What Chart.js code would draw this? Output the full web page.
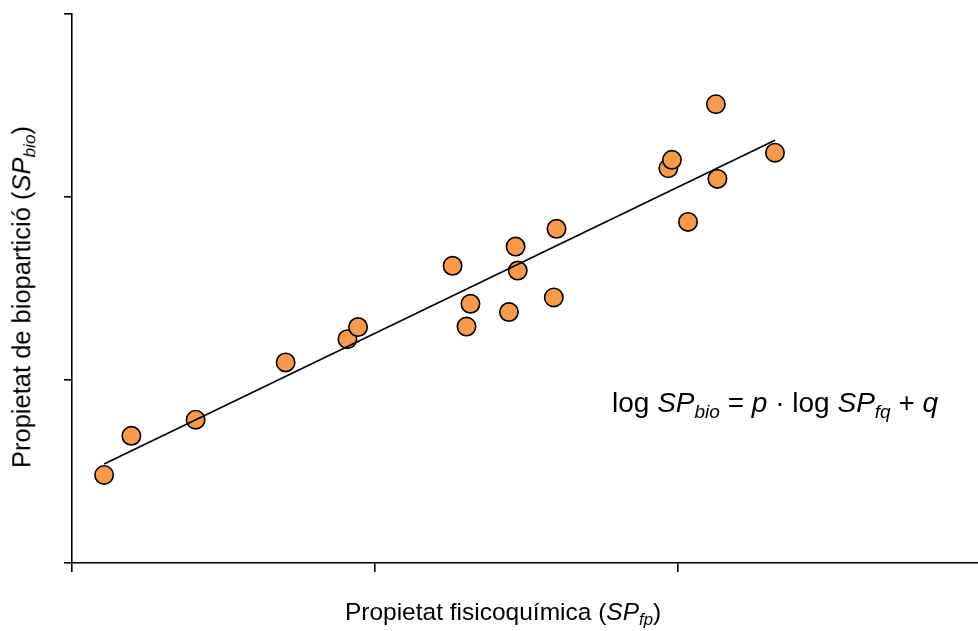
<!DOCTYPE html>
<html lang="ca">
<head>
<meta charset="utf-8">
<title>Propietat de biopartició vs propietat fisicoquímica</title>
<script src="https://cdn.jsdelivr.net/npm/chart.js@4.4.1/dist/chart.umd.min.js"></script>
<style>
  html, body { margin: 0; padding: 0; background: #fff; }
  #wrap { position: relative; width: 978px; height: 631px; font-family: Arial, "Liberation Sans", sans-serif; color: #000; }
  #wrap canvas { position: absolute; left: 0; top: 0; }
  .txt { position: absolute; white-space: nowrap; line-height: 1; }
  .txt i { font-style: italic; }
  .txt sub { font-size: 0.68em; font-style: italic; vertical-align: -0.3em; line-height: 0; }
  #tituloY { left: 22px; top: 297px; font-size: 25.5px; transform: translate(-50%, -50%) rotate(-90deg); }
  #tituloX { left: 503px; top: 612px; font-size: 24.5px; transform: translate(-50%, -50%); }
  #equacio { left: 612px; top: 389px; font-size: 28px; }
</style>
</head>
<body>
<div id="wrap">
  <canvas id="graficoBio" width="978" height="631"></canvas>
  <div class="txt" id="tituloY">Propietat de biopartició (<i>SP</i><sub>bio</sub>)</div>
  <div class="txt" id="tituloX">Propietat fisicoquímica (<i>SP</i><sub>fp</sub>)</div>
  <div class="txt" id="equacio">log <i>SP</i><sub>bio</sub> = <i>p</i> · log <i>SP</i><sub>fq</sub> + <i>q</i></div>
</div>
<script>
// Valors llegits del gràfic (unitats arbitràries dels eixos)
const valorsX = [0.106, 0.196, 0.408, 0.705, 0.909, 0.944, 1.256, 1.315, 1.302, 1.442,
                 1.464, 1.471, 1.590, 1.599, 1.968, 1.980, 2.033, 2.125, 2.130, 2.320];
const valorsY = [0.481, 0.695, 0.783, 1.096, 1.223, 1.289, 1.624, 1.416, 1.292, 1.371,
                 1.729, 1.598, 1.451, 1.826, 2.157, 2.203, 1.864, 2.507, 2.099, 2.242];

// Recta de regressió (extrems)
const rectaX = [0.106, 2.320];
const rectaY = [0.541, 2.310];

// Marques dels eixos (sense etiquetes)
const marquesX = [0, 1, 2];
const marquesY = [0, 1, 2, 3];

document.addEventListener('DOMContentLoaded', () => {
  const ctx = document.getElementById('graficoBio');

  const punts = valorsX.map((x, i) => ({ x: x, y: valorsY[i] }));
  const recta = rectaX.map((x, i) => ({ x: x, y: rectaY[i] }));

  new Chart(ctx, {
    type: 'scatter',
    data: {
      datasets: [
        {
          // la recta va per sobre dels punts
          type: 'line',
          label: 'Regressió',
          data: recta,
          borderColor: '#000',
          borderWidth: 1.6,
          pointRadius: 0,
          fill: false,
          order: 0
        },
        {
          label: 'Compostos',
          data: punts,
          backgroundColor: '#F79A4A',
          borderColor: '#000',
          borderWidth: 1.6,
          pointRadius: 9.2,
          pointHoverRadius: 9.2,
          order: 1
        }
      ]
    },
    options: {
      responsive: false,
      animation: false,
      layout: { autoPadding: false, padding: { top: 14, left: 0, right: 0, bottom: 0 } },
      plugins: {
        legend: { display: false },
        tooltip: { enabled: false }
      },
      scales: {
        x: {
          type: 'linear',
          min: 0,
          max: 2.99,
          afterBuildTicks: s => { s.ticks = marquesX.map(v => ({ value: v })); },
          afterFit: s => { s.height = 68; },
          ticks: { display: false },
          grid: { drawOnChartArea: false, drawTicks: true, tickLength: 9, color: '#000', lineWidth: 1.6 },
          border: { display: true, color: '#000', width: 1.6 }
        },
        y: {
          type: 'linear',
          min: 0,
          max: 3,
          afterBuildTicks: s => { s.ticks = marquesY.map(v => ({ value: v })); },
          afterFit: s => { s.width = 72; },
          ticks: { display: false },
          grid: { drawOnChartArea: false, drawTicks: true, tickLength: 8, color: '#000', lineWidth: 1.6 },
          border: { display: true, color: '#000', width: 1.6 }
        }
      }
    }
  });
});
</script>
</body>
</html>
